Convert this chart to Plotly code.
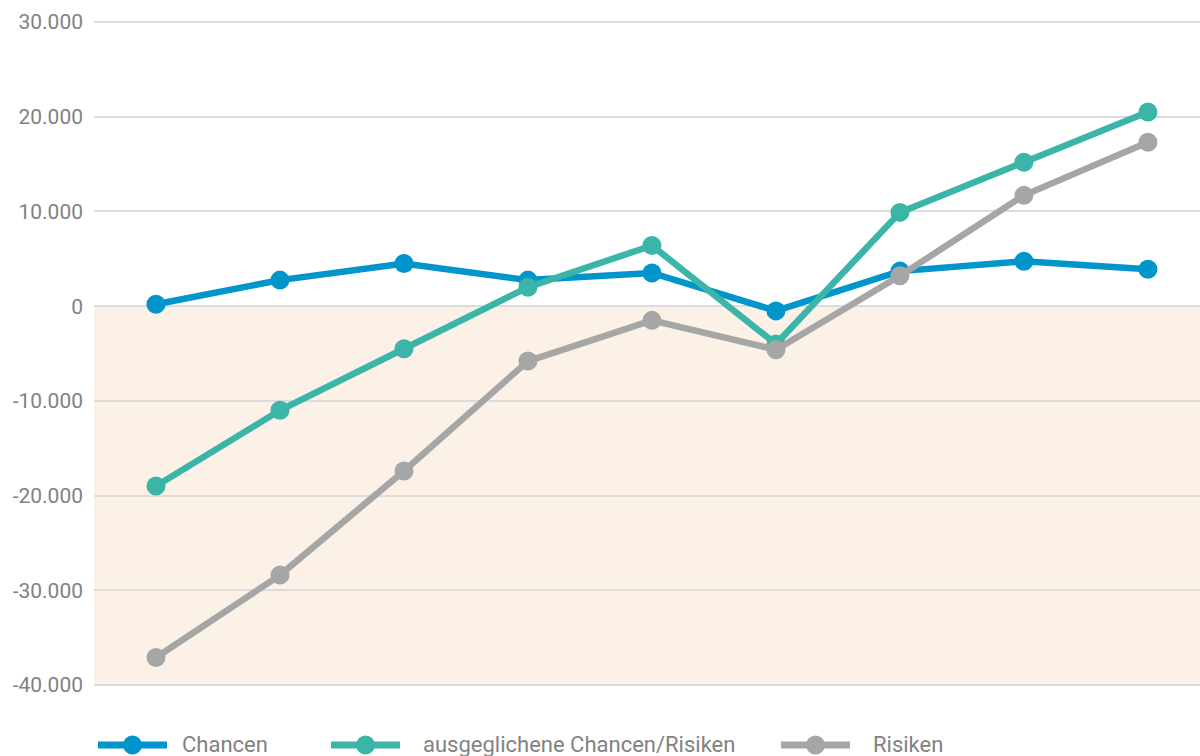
import plotly.graph_objects as go

x_idx = list(range(9))
chancen = [200, 2750, 4500, 2750, 3500, -500, 3700, 4750, 3900]
ausgeglichen = [-19000, -11000, -4500, 2000, 6400, -4000, 9900, 15200, 20500]
risiken = [-37100, -28400, -17400, -5800, -1500, -4600, 3200, 11700, 17300]

series_names = ["Chancen", "ausgeglichene Chancen/Risiken", "Risiken"]
series_values = [chancen, ausgeglichen, risiken]
colors = ["#0095cb", "#3bb5a8", "#a6a6a6"]

tick_vals = [-40000, -30000, -20000, -10000, 0, 10000, 20000, 30000]
tick_text = ["-40.000", "-30.000", "-20.000", "-10.000", "0", "10.000", "20.000", "30.000"]

fig = go.Figure()
for name, vals, col in zip(series_names, series_values, colors):
    fig.add_trace(go.Scatter(
        x=x_idx, y=vals, name=name, mode="lines+markers",
        line=dict(color=col, width=6.5),
        marker=dict(color=col, size=19),
        showlegend=False,
    ))

# shaded negative area
fig.add_shape(type="rect", xref="paper", yref="y", x0=0, x1=1, y0=-40000, y1=0,
              fillcolor="#fcf1e7", line=dict(width=0), layer="below")

# manual legend
legend_x = [(95, 170, 180), (328, 403, 421), (778, 853, 871)]
W, L, R = 1200, 94, 0
pw = W - L - R
T, B = 21, 70
ph = 756 - T - B
def px(xp):
    return (xp - L) / pw
def py(yp):
    return (756 - B - yp) / ph
ly = 745
for (x0, x1, xt), name, col in zip(legend_x, series_names, colors):
    fig.add_shape(type="line", xref="paper", yref="paper", x0=px(x0 + 3), x1=px(x1 - 3),
                  y0=py(ly), y1=py(ly), line=dict(color=col, width=7))
    cx = (x0 + x1) / 2
    r = 9.5
    fig.add_shape(type="circle", xref="paper", yref="paper",
                  x0=px(cx - r), x1=px(cx + r), y0=py(ly + r), y1=py(ly - r),
                  fillcolor=col, line=dict(width=0))
    fig.add_annotation(xref="paper", yref="paper", x=px(xt), y=py(ly - 1), text=name,
                       showarrow=False, xanchor="left", yanchor="middle",
                       font=dict(family="Roboto", size=22, color="#828282"))

fig.update_layout(
    width=1200, height=756,
    margin=dict(l=L, r=R, t=T, b=B),
    plot_bgcolor="white", paper_bgcolor="white",
    showlegend=False,
    xaxis=dict(range=[-0.5, 8.42], showgrid=False, zeroline=False,
               showticklabels=False, showline=False),
    yaxis=dict(range=[-40110, 30110], tickvals=tick_vals, ticktext=tick_text,
               showgrid=True, gridcolor="#dcdcdc", gridwidth=2,
               zeroline=False, showline=False, ticks="",
               ticklabelstandoff=10,
               tickfont=dict(family="Roboto", size=21, color="#828282")),
)

fig.write_html("out.html", config={"displayModeBar": False},
               post_script="document.body.style.margin='0';document.body.style.overflow='hidden';")
